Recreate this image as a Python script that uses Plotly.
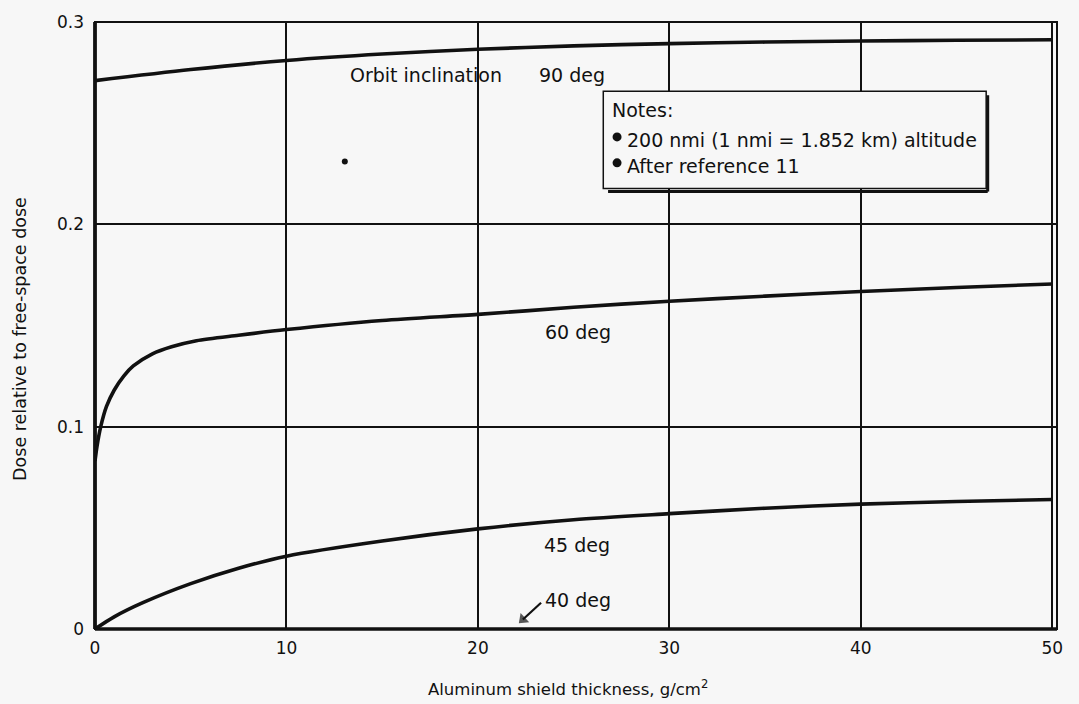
import plotly.graph_objects as go

# Shield thickness (g/cm^2) and dose ratio for each orbit inclination
thick_90 = [0, 5, 10, 15, 20, 25, 30, 35, 40, 45, 50]
dose_90 = [0.271, 0.2765, 0.281, 0.2842, 0.2865, 0.2882, 0.2893, 0.2901, 0.2906, 0.291, 0.2912]

thick_60 = [0, 0.1, 0.3, 0.6, 1.0, 1.5, 2.0, 3.0, 4.0, 5.3, 7.5, 10, 15, 20, 25, 30, 35, 40, 45, 50]
dose_60 = [0.083, 0.090, 0.100, 0.110, 0.118, 0.125, 0.130, 0.136, 0.1395, 0.1425, 0.1452, 0.148,
           0.1525, 0.1555, 0.1590, 0.1620, 0.1645, 0.1668, 0.1688, 0.1705]

thick_45 = [0, 1, 2.5, 5, 7.5, 10, 15, 20, 25, 30, 35, 40, 45, 50]
dose_45 = [0.0, 0.006, 0.013, 0.0224, 0.030, 0.036, 0.0435, 0.0495, 0.054, 0.057, 0.0597, 0.0617, 0.063, 0.064]

# pointer toward the 40 deg case, which lies on the axis
arrow_x = [23.3, 22.35]
arrow_y = [0.0130, 0.0047]

x_ticks = [0, 10, 20, 30, 40, 50]
y_ticks = [0, 0.1, 0.2, 0.3]
y_tick_text = ["0", "0.1", "0.2", "0.3"]

FONT = "DejaVu Sans, Verdana, sans-serif"
INK = "#111111"
BG = "#f7f7f7"

fig = go.Figure()
for xs, ys in [(thick_90, dose_90), (thick_60, dose_60), (thick_45, dose_45)]:
    fig.add_trace(go.Scatter(x=xs, y=ys, mode="lines",
                             line=dict(color=INK, width=3.6, shape="spline", smoothing=0.8),
                             hoverinfo="skip", showlegend=False))

# isolated dot in the upper-left panel
fig.add_trace(go.Scatter(x=[13.05], y=[0.231], mode="markers",
                         marker=dict(color=INK, size=6), hoverinfo="skip", showlegend=False))

fig.add_trace(go.Scatter(x=arrow_x, y=arrow_y, mode="lines+markers",
                         line=dict(color=INK, width=2.2),
                         marker=dict(symbol=["circle", "triangle-up"], size=[0, 11], color=INK,
                                     angleref="previous", line=dict(width=0)),
                         hoverinfo="skip", showlegend=False))

fig.update_layout(
    width=1079, height=704,
    margin=dict(l=95, r=22, t=18, b=75),
    paper_bgcolor=BG, plot_bgcolor=BG,
    font=dict(family=FONT, color=INK, size=17),
    showlegend=False,
)
fig.update_xaxes(range=[0, 50.25], tickvals=x_ticks, ticks="", showgrid=True,
                 gridcolor=INK, gridwidth=1.7, zeroline=False, showline=False,
                 ticklabelstandoff=7, tickfont=dict(size=17, family=FONT))
fig.update_yaxes(range=[0, 0.3], tickvals=y_ticks, ticktext=y_tick_text, ticks="",
                 showgrid=True, gridcolor=INK, gridwidth=1.7, zeroline=False, showline=False,
                 ticklabelstandoff=10, tickfont=dict(size=17, family=FONT))

# frame: thin top/right, heavy left/bottom
fig.add_shape(type="rect", xref="paper", yref="paper", x0=0, x1=1, y0=0, y1=1,
              line=dict(color=INK, width=2))
fig.add_shape(type="line", xref="paper", yref="paper", x0=0, x1=0, y0=0, y1=1,
              line=dict(color=INK, width=3.8))
fig.add_shape(type="line", xref="paper", yref="paper", x0=0, x1=1, y0=0, y1=0,
              line=dict(color=INK, width=3.5))

# notes box with drop shadow
bx0, bx1, by0, by1 = 26.55, 46.55, 0.2177, 0.2658
fig.add_shape(type="rect", x0=bx0, x1=bx1, y0=by0, y1=by1,
              line=dict(color=INK, width=1.5), fillcolor=BG, layer="above")
fig.add_shape(type="line", x0=bx1 + 0.08, x1=bx1 + 0.08, y0=by0 - 0.0015, y1=by1 - 0.002,
              line=dict(color=INK, width=3), layer="above")
fig.add_shape(type="line", x0=bx0 + 0.25, x1=bx1 + 0.08, y0=by0 - 0.0015, y1=by0 - 0.0015,
              line=dict(color=INK, width=3), layer="above")

fig.add_annotation(x=26.9, y=0.2565, text="Notes:", showarrow=False, xanchor="left",
                   yanchor="middle", font=dict(size=19, family=FONT, color=INK))
notes = [("200 nmi (1 nmi = 1.852 km) altitude", 0.2418, 0.2432),
         ("After reference 11", 0.2290, 0.2304)]
for txt, yv, yb in notes:
    # round bullet ahead of each note line
    fig.add_shape(type="circle", xsizemode="pixel", ysizemode="pixel", xanchor=27.27, yanchor=yb,
                  x0=-4.5, x1=4.5, y0=-4.5, y1=4.5, fillcolor=INK, line=dict(width=0), layer="above")
    fig.add_annotation(x=27.66, y=yv, text=txt, showarrow=False, xanchor="left",
                       yanchor="middle", font=dict(size=19, family=FONT, color=INK))

labels = [("Orbit inclination", 17.3, 0.2737), ("90 deg", 24.92, 0.2737),
          ("60 deg", 25.23, 0.1470), ("45 deg", 25.18, 0.0415), ("40 deg", 25.21, 0.0142)]
for txt, xv, yv in labels:
    fig.add_annotation(x=xv, y=yv, text=txt, showarrow=False, xanchor="center",
                       yanchor="middle", font=dict(size=19, family=FONT, color=INK))

fig.add_annotation(xref="paper", yref="paper", x=(568 - 95) / 962, y=(629 - 688) / 611,
                   text="Aluminum shield thickness, g/cm<sup>2</sup>", showarrow=False,
                   xanchor="center", yanchor="middle", font=dict(size=16.5, family=FONT, color=INK))
fig.add_annotation(xref="paper", yref="paper", x=(20 - 95) / 962, y=(629 - 337) / 611,
                   text="Dose relative to free-space dose", showarrow=False, textangle=-90,
                   xanchor="center", yanchor="middle", font=dict(size=17.5, family=FONT, color=INK))

fig.write_html("out.html")
